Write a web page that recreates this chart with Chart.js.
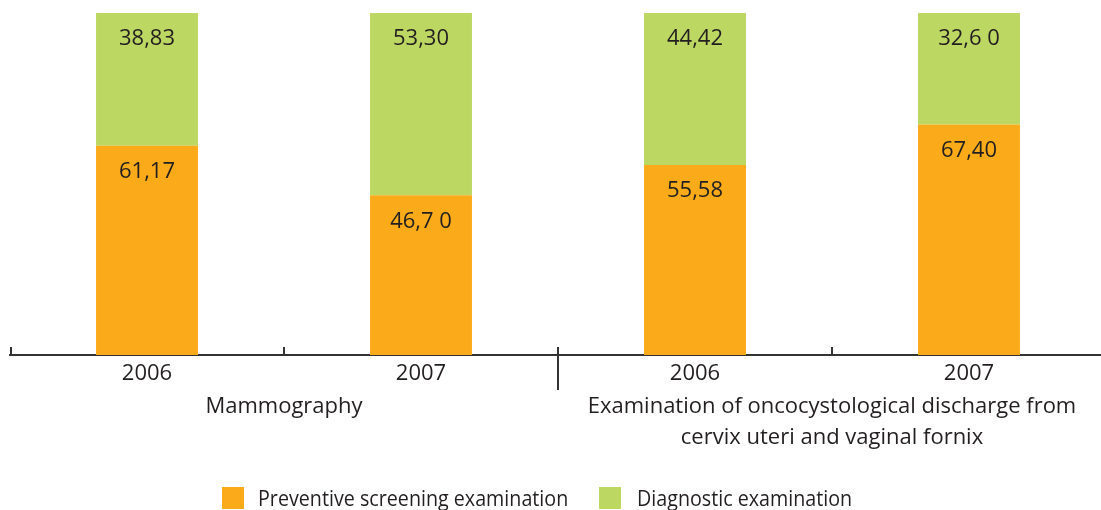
<!DOCTYPE html>
<html>
<head>
<meta charset="utf-8">
<script src="https://cdn.jsdelivr.net/npm/chart.js@4.4.1/dist/chart.umd.min.js"></script>
<style>
  html, body { margin: 0; padding: 0; background: #fff; overflow: hidden; }
  #wrap { position: relative; width: 1101px; height: 510px; overflow: hidden; }
  #chart { position: absolute; left: 0; top: 0; }
  .legend { position: absolute; top: 487px; font: 22px "Open Sans", sans-serif; color: #231f20; line-height: 22px; }
  .legend span { position: absolute; top: 0; width: 22px; height: 22px; }
  .legend div { position: absolute; top: -1px; white-space: nowrap; transform: scaleX(0.895); transform-origin: left center; }
</style>
</head>
<body>
<div id="wrap">
  <canvas id="chart" width="1110" height="510"></canvas>
  <div class="legend" style="left:222px"><span style="background:#fbab1a"></span><div style="left:36px">Preventive screening examination</div></div>
  <div class="legend" style="left:599px"><span style="background:#bdd763"></span><div style="left:38px">Diagnostic examination</div></div>
</div>
<script>
// years under each bar, and the two groups they belong to
var categories = ["2006", "2007", "2006", "2007"];
var groupLabels = [["Mammography"], ["Examination of oncocystological discharge from", "cervix uteri and vaginal fornix"]];

// shares in percent
var preventiveData = [61.17, 46.70, 55.58, 67.40];
var diagnosticData = [38.83, 53.30, 44.42, 32.60];

// printed labels exactly as they appear in the original
var preventiveText = ["61,17", "46,7 0", "55,58", "67,40"];
var diagnosticText = ["38,83", "53,30", "44,42", "32,6 0"];

var textColor = "#231f20";
var axisColor = "#333333";
var fontFace = '"Open Sans", sans-serif';

//writes the value near the top of every segment
var segmentLabels = {
	id: "segmentLabels",
	afterDatasetsDraw: function(chart)
	{
		var ctx = chart.ctx;
		ctx.save();
		ctx.fillStyle = textColor;
		ctx.font = "22px " + fontFace;
		ctx.textAlign = "center";
		ctx.textBaseline = "middle";
		chart.data.datasets.forEach(function(ds, i)
		{
			chart.getDatasetMeta(i).data.forEach(function(bar, j)
			{
				ctx.fillText(ds.valueText[j], bar.x, bar.y + 26);
			});
		});
		ctx.restore();
	}
};

//small ticks between the bars, a long one between the two groups, and the group names
var groupAxis = {
	id: "groupAxis",
	afterDraw: function(chart)
	{
		var ctx = chart.ctx;
		var x = chart.scales.x;
		var base = chart.chartArea.bottom;
		ctx.save();
		ctx.strokeStyle = axisColor;
		ctx.lineWidth = 2;
		for (var i = 0; i < categories.length; i++)
		{
			var px = i == 0 ? chart.chartArea.left + 1 : (x.getPixelForValue(i - 1) + x.getPixelForValue(i)) / 2;
			ctx.beginPath();
			ctx.moveTo(px, base - 8);
			ctx.lineTo(px, i == 2 ? base + 35 : base + 1);
			ctx.stroke();
		}
		ctx.fillStyle = textColor;
		ctx.font = "22px " + fontFace;
		ctx.textAlign = "center";
		ctx.textBaseline = "middle";
		groupLabels.forEach(function(lines, g)
		{
			var cx = (x.getPixelForValue(g * 2) + x.getPixelForValue(g * 2 + 1)) / 2;
			lines.forEach(function(line, k)
			{
				ctx.fillText(line, cx, base + 52 + k * 31);
			});
		});
		ctx.restore();
	}
};

new Chart("chart",
{
	type: "bar",
	data:
	{
		labels: categories,
		datasets: [
		{
			label: "Preventive screening examination",
			data: preventiveData,
			valueText: preventiveText,
			backgroundColor: "#fbab1a"
		},
		{
			label: "Diagnostic examination",
			data: diagnosticData,
			valueText: diagnosticText,
			backgroundColor: "#bdd763"
		}]
	},
	options:
	{
		responsive: false,
		animation: false,
		devicePixelRatio: 1,
		layout: { padding: { left: 10, right: 4, top: 13, bottom: 0 } },
		datasets: { bar: { categoryPercentage: 1, barPercentage: 0.372 } },
		plugins:
		{
			legend: { display: false },
			tooltip: { enabled: false }
		},
		scales:
		{
			x:
			{
				stacked: true,
				grid: { display: false, drawTicks: false },
				border: { display: true, color: axisColor, width: 2 },
				ticks: { color: textColor, font: { family: fontFace, size: 22 }, padding: 6 },
				afterFit: function(scale) { scale.height = 155; }
			},
			y:
			{
				stacked: true,
				display: false,
				min: 0,
				max: 100
			}
		}
	},
	plugins: [segmentLabels, groupAxis]
});
</script>
</body>
</html>
